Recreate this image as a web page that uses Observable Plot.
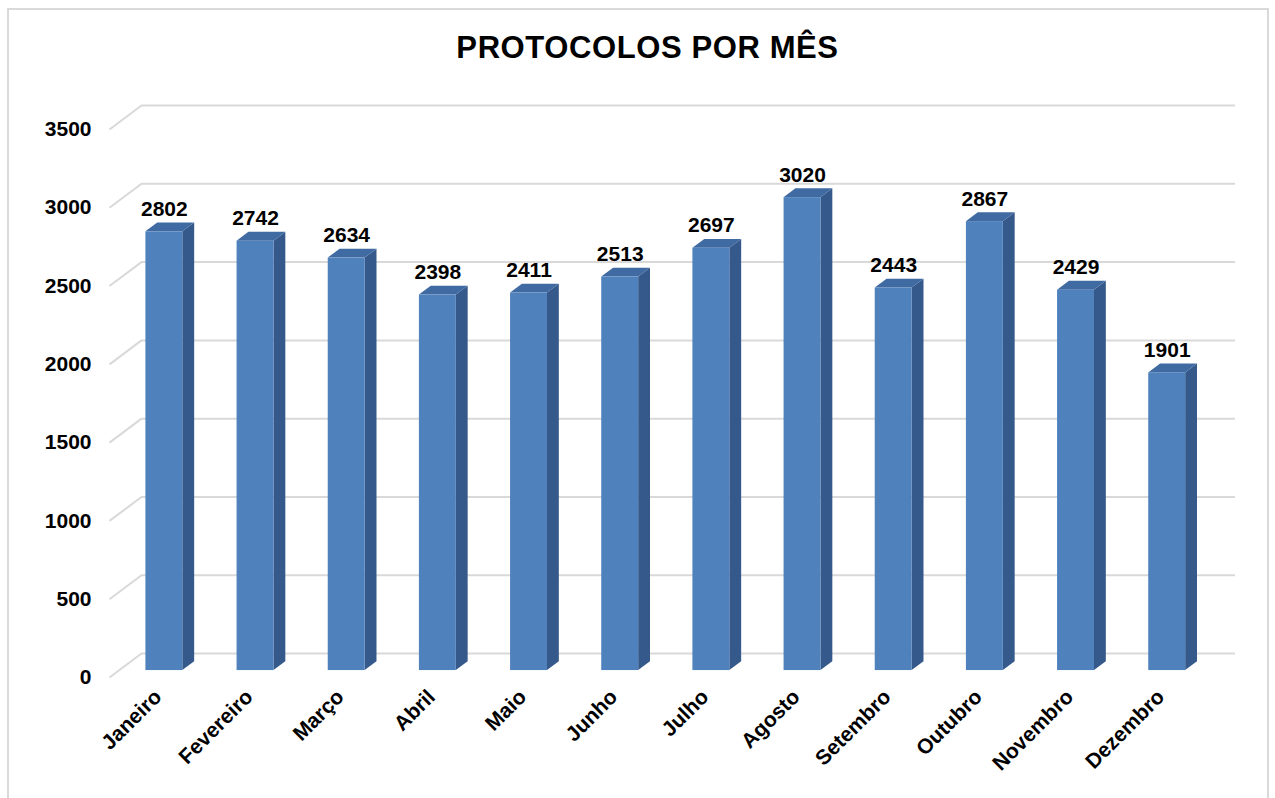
<!DOCTYPE html>
<html>
<head>
<meta charset="utf-8">
<script src="https://cdn.jsdelivr.net/npm/d3@7"></script>
<script src="https://cdn.jsdelivr.net/npm/@observablehq/plot@0.6"></script>
<style>
  html, body { margin: 0; padding: 0; background: #fff; overflow: hidden; }
  body { position: relative; width: 1275px; height: 798px; font-family: "Liberation Sans", Arial, sans-serif; }
  #frame { position: absolute; left: 7px; top: 8px; width: 1262px; height: 820px; border: 2px solid #d9d9d9; box-sizing: border-box; }
  #title { position: absolute; left: 20px; width: 1255px; top: 30px; line-height: 36px; text-align: center;
           font-size: 31px; font-weight: bold; color: #000; letter-spacing: 0.6px; }
  #chart { position: absolute; left: 0; top: 80px; }
</style>
</head>
<body>
<div id="frame"></div>
<div id="title">PROTOCOLOS POR MÊS</div>
<div id="chart"></div>
<script>
// ---- data ----
const months = ["Janeiro", "Fevereiro", "Março", "Abril", "Maio", "Junho",
                "Julho", "Agosto", "Setembro", "Outubro", "Novembro", "Dezembro"];
const values = [2802, 2742, 2634, 2398, 2411, 2513, 2697, 3020, 2443, 2867, 2429, 1901];
const yTicks = [0, 500, 1000, 1500, 2000, 2500, 3000, 3500];

// ---- 3D projection constants (depth expressed in data units) ----
const DX = 0.351;   // full depth, in category units
const DY = 153;     // full depth, in value units
const ZF = 0.29;    // bar front position (fraction of depth)
const ZB = 0.66;    // bar back position
const W = 0.405;    // bar width in category units

const frontColor = "#4f81bd", sideColor = "#35598a", topColor = "#3f6aa2";
const grid = "#d9d9d9";

const bars = months.map((m, i) => ({ m, i, v: values[i] }));
const side = bars.flatMap(b => [
  { i: b.i, x: b.i + W / 2 + ZF * DX, y1: ZF * DY, y2: b.v + ZF * DY },
  { i: b.i, x: b.i + W / 2 + ZB * DX, y1: ZB * DY, y2: b.v + ZB * DY }
]);
const topFace = bars.flatMap(b => [
  { i: b.i, y: b.v + ZF * DY, x1: b.i - W / 2 + ZF * DX, x2: b.i + W / 2 + ZF * DX },
  { i: b.i, y: b.v + ZB * DY, x1: b.i - W / 2 + ZB * DX, x2: b.i + W / 2 + ZB * DX }
]);

const font = { fontFamily: "Liberation Sans, Arial, sans-serif", fontWeight: "bold", fill: "#000" };

const chart = Plot.plot({
  width: 1275,
  height: 718,
  x: { type: "linear", domain: [-0.5, 11.5 + DX], range: [109, 1235], axis: null },
  y: { type: "linear", domain: [0, 3500 + DY], range: [597, 25], axis: null },
  style: { background: "transparent", overflow: "visible" },
  marks: [
    // back wall gridlines
    Plot.ruleY(yTicks, { y: d => d + DY, x1: -0.5 + DX, x2: 11.5 + DX, stroke: grid, strokeWidth: 2 }),
    // side wall slanted gridlines
    Plot.link(yTicks, { x1: -0.5, y1: d => d, x2: -0.5 + DX, y2: d => d + DY, stroke: grid, strokeWidth: 2 }),
    // bar faces
    Plot.areaY(side, { x: "x", y1: "y1", y2: "y2", z: "i", fill: sideColor }),
    Plot.areaX(topFace, { y: "y", x1: "x1", x2: "x2", z: "i", fill: topColor }),
    Plot.rect(bars, {
      x1: d => d.i - W / 2 + ZF * DX, x2: d => d.i + W / 2 + ZF * DX,
      y1: () => ZF * DY, y2: d => d.v + ZF * DY, fill: frontColor
    }),
    // value labels
    Plot.text(bars, {
      x: d => d.i + ZF * DX, y: d => d.v + ZB * DY, text: d => String(d.v),
      lineAnchor: "bottom", dy: -7, fontSize: 21, ...font
    }),
    // y tick labels
    Plot.text(yTicks, { x: () => -0.5, y: d => d, text: d => String(d), textAnchor: "end", dx: -18, fontSize: 21, ...font }),
    // x category labels
    Plot.text(bars, {
      x: "i", y: () => 0, text: "m", rotate: -45, textAnchor: "end",
      dx: 3, dy: 16, fontSize: 21, ...font
    })
  ]
});
document.getElementById("chart").appendChild(chart);
</script>
</body>
</html>
